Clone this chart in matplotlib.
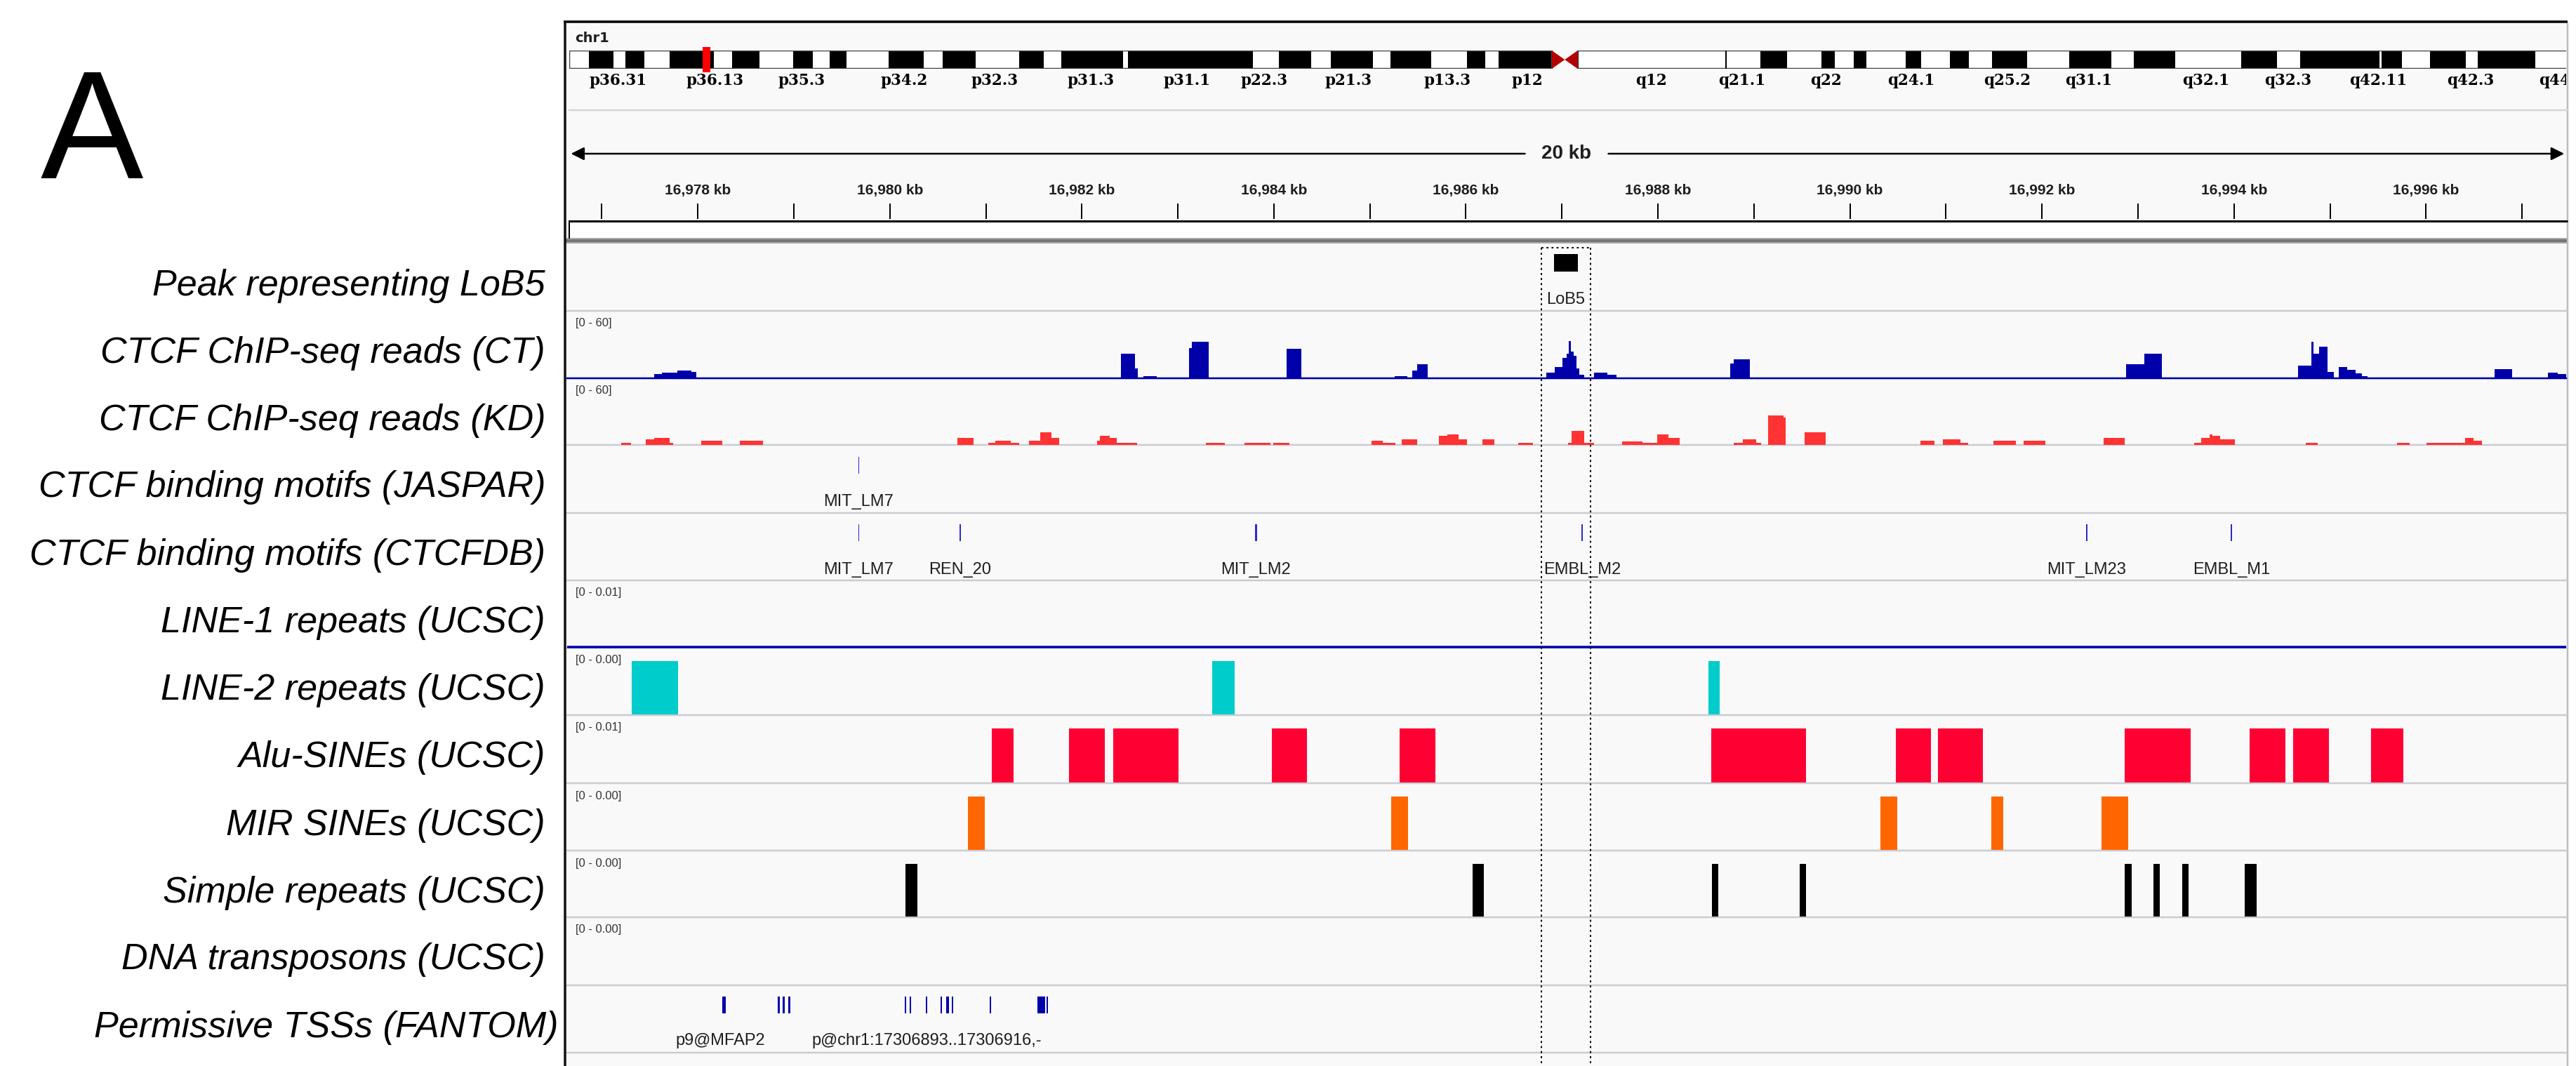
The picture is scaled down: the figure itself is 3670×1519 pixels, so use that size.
import matplotlib
matplotlib.use("Agg")
import matplotlib.pyplot as plt
from matplotlib.patches import Rectangle, Polygon

plt.rcParams['font.family'] = ['Liberation Sans', 'DejaVu Sans']

# ---------------- genomic view (chr1, positions in kb) ----------------
chrom = "chr1"
view_start_kb = 16976.639
view_end_kb = 16997.460
ruler_tick_kb = list(range(16977, 16998))
ruler_label_kb = list(range(16978, 16997, 2))

# ---------------- chromosome 1 ideogram (Mb) ----------------
chr1_length_mb = 249.25
p_arm_edges_mb = [0.0, 2.4, 5.5, 6.9, 9.3, 12.4, 17.9, 20.1, 23.5, 27.7, 30.1, 32.2, 34.3,
                  39.5, 43.8, 46.1, 50.2, 55.6, 58.6, 60.8, 68.4, 69.0, 84.5, 87.7, 91.7,
                  94.1, 99.3, 101.5, 106.5, 110.9, 113.2, 114.8, 121.4]
p_arm_stain = ["gneg", "gpos"] * 16
centromere_mb = (121.4, 124.6)
q_arm_edges_mb = [124.6, 142.9, 147.2, 150.5, 154.7, 156.4, 158.7, 160.3, 165.1, 167.0,
                  170.6, 172.9, 175.8, 180.1, 185.3, 190.5, 193.3, 198.4, 206.6, 211.0,
                  213.9, 223.7, 223.9, 226.4, 229.9, 234.3, 235.8, 242.9, 249.25]
q_arm_stain = ["gneg"] + ["gneg", "gpos"] * 13 + ["gneg"]
band_names = ["p36.31", "p36.13", "p35.3", "p34.2", "p32.3", "p31.3", "p31.1", "p22.3",
              "p21.3", "p13.3", "p12", "q12", "q21.1", "q22", "q24.1", "q25.2", "q31.1",
              "q32.1", "q32.3", "q42.11", "q42.3", "q44"]
band_label_mb = [6.0, 18.0, 28.7, 41.4, 52.6, 64.4, 76.3, 85.9, 96.3, 108.5, 118.4, 133.7,
                 144.9, 155.3, 165.8, 177.7, 187.7, 202.2, 212.4, 223.5, 234.9, 245.3]

# ---------------- tracks ----------------
track_names = ["Peak representing LoB5", "CTCF ChIP-seq reads (CT)", "CTCF ChIP-seq reads (KD)",
               "CTCF binding motifs (JASPAR)", "CTCF binding motifs (CTCFDB)",
               "LINE-1 repeats (UCSC)", "LINE-2 repeats (UCSC)", "Alu-SINEs (UCSC)",
               "MIR SINEs (UCSC)", "Simple repeats (UCSC)", "DNA transposons (UCSC)",
               "Permissive TSSs (FANTOM)"]
track_range = [None, "[0 - 60]", "[0 - 60]", None, None, "[0 - 0.01]", "[0 - 0.00]",
               "[0 - 0.01]", "[0 - 0.00]", "[0 - 0.00]", "[0 - 0.00]", None]

peak_name = "LoB5"
peak_start_kb, peak_end_kb = 16986.915, 16987.164
roi_start_kb, roi_end_kb = 16986.789, 16987.298

coverage_max = 60
ct_start_kb = [16977.545, 16977.626, 16977.787, 16977.933, 16982.407, 16982.554, 16982.641,
               16983.116, 16983.146, 16984.133, 16985.258, 16985.441, 16985.492,
               16986.838, 16986.925, 16987.006, 16987.050, 16987.072, 16987.094, 16987.123,
               16987.152, 16987.182, 16987.336, 16987.475, 16988.753, 16988.789,
               16992.877, 16993.067, 16994.668, 16994.805, 16994.825, 16994.886, 16994.974,
               16995.092, 16995.176, 16995.264, 16995.332, 16996.715, 16997.271, 16997.373]
ct_end_kb = [16977.626, 16977.787, 16977.933, 16977.984, 16982.554, 16982.583, 16982.780,
             16983.146, 16983.321, 16984.286, 16985.390, 16985.492, 16985.601,
             16986.925, 16987.006, 16987.050, 16987.072, 16987.094, 16987.123, 16987.152,
             16987.182, 16987.233, 16987.475, 16987.570, 16988.789, 16988.957,
             16993.067, 16993.250, 16994.805, 16994.825, 16994.886, 16994.974, 16995.041,
             16995.176, 16995.264, 16995.332, 16995.392, 16996.898, 16997.373, 16997.461]
ct_reads = [3.5, 5.2, 6.7, 5.6, 22.0, 9.0, 2.0,
            27.0, 32.5, 26.5, 2.0, 7.0, 12.7,
            5.0, 10.0, 18.0, 22.0, 33.0, 24.0, 20.0,
            9.0, 3.0, 5.0, 3.0, 13.0, 17.0,
            12.5, 22.0, 11.5, 32.7, 22.0, 28.0, 5.6,
            9.8, 7.7, 4.6, 2.0, 8.3, 5.2, 3.5]

kd_start_kb = [16977.201, 16977.457, 16977.545, 16977.709, 16978.035, 16978.437, 16980.704,
               16981.022, 16981.096, 16981.259, 16981.448, 16981.569, 16981.684, 16982.158,
               16982.191, 16982.293, 16982.360, 16983.293, 16983.696, 16983.997, 16985.017,
               16985.132, 16985.328, 16985.720, 16985.808, 16985.923, 16986.173, 16986.545,
               16987.064, 16987.100, 16987.232, 16987.624, 16987.841, 16987.989, 16988.111,
               16988.787, 16988.888, 16989.024, 16989.146, 16989.308, 16989.531, 16990.734,
               16990.970, 16991.153, 16991.491, 16991.809, 16992.640, 16993.587, 16993.655,
               16993.743, 16993.776, 16993.858, 16994.750, 16995.697, 16996.007, 16996.406,
               16996.494]
kd_end_kb = [16977.303, 16977.545, 16977.709, 16977.745, 16978.254, 16978.679, 16980.872,
             16981.096, 16981.259, 16981.346, 16981.569, 16981.684, 16981.765, 16982.191,
             16982.293, 16982.360, 16982.577, 16983.489, 16983.963, 16984.165, 16985.132,
             16985.267, 16985.490, 16985.808, 16985.923, 16986.011, 16986.295, 16986.700,
             16987.100, 16987.232, 16987.334, 16987.841, 16987.989, 16988.111, 16988.226,
             16988.888, 16989.024, 16989.071, 16989.308, 16989.328, 16989.748, 16990.883,
             16991.153, 16991.234, 16991.728, 16992.032, 16992.863, 16993.655, 16993.743,
             16993.776, 16993.858, 16994.006, 16994.872, 16995.832, 16996.406, 16996.494,
             16996.582]
kd_reads = [2.1, 5.3, 6.5, 2.0, 3.6, 3.6, 6.5,
            1.7, 3.6, 2.0, 3.6, 11.2, 6.5, 3.6,
            8.0, 6.5, 2.0, 2.0, 2.0, 2.0, 3.6,
            2.0, 5.3, 8.0, 9.5, 5.3, 5.3, 2.0,
            2.0, 12.6, 2.0, 3.4, 2.0, 9.5, 6.5,
            2.0, 5.3, 2.0, 26.3, 24.7, 11.2, 3.6,
            5.3, 2.0, 3.6, 3.6, 6.5, 2.0, 6.5,
            9.5, 8.0, 5.3, 2.0, 2.0, 2.0, 6.5,
            3.6]

jaspar_pos_kb = [16979.676]
jaspar_names = ["MIT_LM7"]
jaspar_len_bp = [12]
ctcfdb_pos_kb = [16979.676, 16980.731, 16983.814, 16987.212, 16992.465, 16993.972]
ctcfdb_names = ["MIT_LM7", "REN_20", "MIT_LM2", "EMBL_M2", "MIT_LM23", "EMBL_M1"]
ctcfdb_len_bp = [12, 12, 22, 12, 12, 12]

line2_start_kb = [16977.311, 16983.361, 16988.523]
line2_end_kb = [16977.797, 16983.591, 16988.646]
alu_start_kb = [16981.063, 16981.867, 16982.327, 16983.976, 16985.308, 16988.557,
                16990.477, 16990.917, 16992.864, 16994.162, 16994.614, 16995.426]
alu_end_kb = [16981.286, 16982.239, 16983.010, 16984.348, 16985.680, 16989.544,
              16990.842, 16991.384, 16993.547, 16994.533, 16994.987, 16995.764]
mir_start_kb = [16980.813, 16985.220, 16990.315, 16991.471, 16992.621]
mir_end_kb = [16980.988, 16985.396, 16990.491, 16991.599, 16992.898]
simple_start_kb = [16980.163, 16986.072, 16988.564, 16989.477, 16992.864, 16993.162,
                   16993.459, 16994.114]
simple_end_kb = [16980.285, 16986.187, 16988.632, 16989.544, 16992.931, 16993.229,
                 16993.527, 16994.236]

tss_start_kb = [16978.253, 16978.832, 16978.886, 16978.941, 16980.156, 16980.207,
                16980.374, 16980.525, 16980.588, 16980.643, 16981.043, 16981.536, 16981.630]
tss_end_kb = [16978.293, 16978.852, 16978.906, 16978.966, 16980.171, 16980.222,
              16980.386, 16980.540, 16980.618, 16980.658, 16981.055, 16981.617, 16981.650]
tss_labels = ["p9@MFAP2", "p@chr1:17306893..17306916,-"]
tss_label_kb = [16978.237, 16980.386]

# ---------------- colours ----------------
PANEL_BG = "#f9f9f9"
SEP = "#cbcbd3"
CT_BLUE = "#0000aa"
KD_RED = "#ff3333"
MOTIF_BLUE = "#2a2ad0"
LINE2_CYAN = "#00cccc"
ALU_RED = "#ff0033"
MIR_ORANGE = "#ff6600"
TEXT_DARK = "#1e1e1e"

# ---------------- figure scaffolding (pixel layout) ----------------
W, H = 3670, 1519
fig = plt.figure(figsize=(W / 100, H / 100), dpi=100)
fig.patch.set_facecolor("white")


def px(v):
    """line width in points for a width given in pixels"""
    return v * 0.72


def px_axes(x0, y0, x1, y1):
    ax = fig.add_axes([x0 / W, 1 - y1 / H, (x1 - x0) / W, (y1 - y0) / H])
    ax.set_axis_off()
    return ax


PANEL_L, PANEL_R = 805, 3658
DATA_L, DATA_R = 808, 3656
track_top_px = [347, 443, 539, 634, 731, 827, 923, 1019, 1116, 1212, 1307, 1404]
track_bottom_px = track_top_px[1:] + [1500]

bg = px_axes(0, 0, W, H)
bg.set_xlim(0, W)
bg.set_ylim(H, 0)
bg.add_patch(Rectangle((PANEL_L, 31), PANEL_R - PANEL_L, H - 31, facecolor=PANEL_BG,
                       edgecolor="none"))
bg.plot([PANEL_L - 2, PANEL_R], [31, 31], color="black", lw=px(3.5), solid_capstyle="butt")
bg.plot([PANEL_L, PANEL_L], [31, H], color="#111111", lw=px(3.5), solid_capstyle="butt")
bg.plot([PANEL_R, PANEL_R], [33, H], color="#bcbcbc", lw=px(2.5), solid_capstyle="butt")

# panel letter
bg.text(58, 254, "A", fontsize=158, ha="left", va="baseline", color="black")

# ideogram / ruler separators
bg.plot([811, PANEL_R], [157, 157], color="#d4d4dc", lw=px(2.5))
bg.text(819, 55, chrom, fontsize=14, fontweight="bold", family="DejaVu Sans",
        ha="left", va="center", color=TEXT_DARK)

# ruler frame
bg.plot([811, PANEL_R], [315, 315], color="black", lw=px(3), solid_capstyle="butt")
bg.add_patch(Rectangle((811, 316), PANEL_R - 811, 23, facecolor="white", edgecolor="none"))
bg.plot([811, 811], [315, 339], color="black", lw=px(2))
bg.add_patch(Rectangle((PANEL_L, 339), PANEL_R - PANEL_L, 8, facecolor="#a9a9a9",
                       edgecolor="none"))
bg.add_patch(Rectangle((PANEL_L, 341), PANEL_R - PANEL_L, 4, facecolor="#767676",
                       edgecolor="none"))

# track separators
for yb in track_bottom_px:
    bg.plot([PANEL_L + 2, PANEL_R], [yb, yb], color=SEP, lw=px(2.5), solid_capstyle="butt")

# track names
for name, top in zip(track_names, track_top_px):
    xr = 795 if name.startswith("Permissive") else 777
    bg.text(xr, top + 74, name, fontsize=37.5, style="italic", ha="right",
            va="baseline", color="black")

# data-range labels
for rng, top in zip(track_range, track_top_px):
    if rng:
        bg.text(820, top + 18, rng, fontsize=12, ha="left", va="center", color="#333333")

# ---------------- chromosome ideogram ----------------
IDEO_X0, IDEO_X1 = 811, 3685        # pixel span of the whole chromosome
mb_right = chr1_length_mb * (DATA_R - IDEO_X0) / (IDEO_X1 - IDEO_X0)
ideo = px_axes(IDEO_X0, 72, DATA_R, 98)
ideo.set_xlim(0, mb_right)
ideo.set_ylim(0, 1)


def draw_arm(edges, stains, ax):
    for i, stain in enumerate(stains):
        s, e = edges[i], edges[i + 1]
        ax.add_patch(Rectangle((s, 0), e - s, 1, facecolor="black" if stain == "gpos" else "white",
                               edgecolor="none"))
        if i > 0 and stains[i - 1] == stain:
            ax.plot([s, s], [0, 1], color="black", lw=px(2))
    ax.add_patch(Rectangle((edges[0], 0), edges[-1] - edges[0], 1, facecolor="none",
                           edgecolor="#444444", lw=px(2.5)))


draw_arm(p_arm_edges_mb, p_arm_stain, ideo)
draw_arm(q_arm_edges_mb, q_arm_stain, ideo)
c0, c1 = centromere_mb
cm = (c0 + c1) / 2
ideo.add_patch(Polygon([(c0, 0), (c0, 1), (cm, 0.5)], closed=True, facecolor="#b40000",
                       edgecolor="none"))
ideo.add_patch(Polygon([(c1, 0), (c1, 1), (cm, 0.5)], closed=True, facecolor="#b40000",
                       edgecolor="none"))
view_mid_mb = (view_start_kb + view_end_kb) / 2 / 1000
ideo.add_patch(Rectangle((view_mid_mb - 0.48, -0.2), 0.96, 1.4, facecolor="red",
                         edgecolor="none", clip_on=False, zorder=5))

band_ax = px_axes(IDEO_X0, 100, DATA_R, 132)
band_ax.set_xlim(0, mb_right)
band_ax.set_ylim(132, 100)
for name, pos in zip(band_names, band_label_mb):
    band_ax.text(pos, 115, name, fontsize=15.5, family="DejaVu Serif", fontweight="bold",
                 ha="center", va="center", color="black", clip_on=True)

# ---------------- ruler ----------------
ruler = px_axes(DATA_L, 180, DATA_R, 340)
ruler.set_xlim(view_start_kb, view_end_kb)
ruler.set_ylim(340, 180)
view_mid_kb = (view_start_kb + view_end_kb) / 2
span_kb = view_end_kb - view_start_kb
gap = 0.435
arrow_kw = dict(arrowstyle="-|>", color="black", lw=px(2.5), mutation_scale=28,
                shrinkA=0, shrinkB=0)
ruler.annotate("", xy=(view_start_kb + 0.04, 219), xytext=(view_mid_kb - gap, 219),
               arrowprops=arrow_kw)
ruler.annotate("", xy=(view_end_kb - 0.02, 219), xytext=(view_mid_kb + gap, 219),
               arrowprops=arrow_kw)
ruler.text(view_mid_kb, 219, f"{int(span_kb)} kb", fontsize=20, fontweight="bold",
           ha="center", va="center", color=TEXT_DARK)
ruler.vlines(ruler_tick_kb, 290, 312, color="black", lw=px(2))
for kb in ruler_label_kb:
    ruler.text(kb, 272, f"{kb:,} kb", fontsize=15, fontweight="bold", ha="center",
               va="center", color=TEXT_DARK)

# ---------------- feature tracks (y in pixel rows) ----------------
g = px_axes(DATA_L, 347, DATA_R, H)
g.set_xlim(view_start_kb, view_end_kb)
g.set_ylim(H, 347)

# peak
g.add_patch(Rectangle((peak_start_kb, 362), peak_end_kb - peak_start_kb, 25,
                      facecolor="black", edgecolor="none"))
g.text((peak_start_kb + peak_end_kb) / 2, 427, peak_name, fontsize=17, ha="center",
       va="center", color=TEXT_DARK)


def motif_track(pos_kb, names, len_bp, y0, y1, ylab):
    for p, n, L in zip(pos_kb, names, len_bp):
        w = L / 1000
        g.add_patch(Rectangle((p - w / 2, y0), w, y1 - y0, facecolor=MOTIF_BLUE,
                              edgecolor="none"))
        g.text(p, ylab, n, fontsize=17, ha="center", va="center", color=TEXT_DARK)


motif_track(jaspar_pos_kb, jaspar_names, jaspar_len_bp, 651, 675, 715)
motif_track(ctcfdb_pos_kb, ctcfdb_names, ctcfdb_len_bp, 747, 771, 812)

# LINE-1 baseline
g.plot([view_start_kb, view_end_kb], [922, 922], color=CT_BLUE, lw=px(3.5),
       solid_capstyle="butt")


def repeat_track(starts, ends, color, top, bottom):
    y_bar = bottom - 0.8 * (bottom - top)
    for s, e in zip(starts, ends):
        g.add_patch(Rectangle((s, y_bar), e - s, bottom - y_bar - 1, facecolor=color,
                              edgecolor="none"))


repeat_track(line2_start_kb, line2_end_kb, LINE2_CYAN, 923, 1019)
repeat_track(alu_start_kb, alu_end_kb, ALU_RED, 1019, 1116)
repeat_track(mir_start_kb, mir_end_kb, MIR_ORANGE, 1116, 1212)
repeat_track(simple_start_kb, simple_end_kb, "black", 1212, 1307)

# TSSs
for s, e in zip(tss_start_kb, tss_end_kb):
    g.add_patch(Rectangle((s, 1420), e - s, 24, facecolor=CT_BLUE, edgecolor="none"))
for lab, pos in zip(tss_labels, tss_label_kb):
    g.text(pos, 1483, lab, fontsize=17, ha="center", va="center", color=TEXT_DARK)

# ---------------- coverage tracks ----------------
ct_ax = px_axes(DATA_L, 443, DATA_R, 539)
ct_ax.set_xlim(view_start_kb, view_end_kb)
ct_ax.set_ylim(0, coverage_max)
ct_ax.bar(ct_start_kb, ct_reads, width=[e - s for s, e in zip(ct_start_kb, ct_end_kb)],
          align="edge", color=CT_BLUE, linewidth=0)
ct_ax.axhline(0, color=CT_BLUE, lw=px(2.5), clip_on=False)

kd_ax = px_axes(DATA_L, 539, DATA_R, 634)
kd_ax.set_xlim(view_start_kb, view_end_kb)
kd_ax.set_ylim(0, coverage_max)
kd_ax.bar(kd_start_kb, kd_reads, width=[e - s for s, e in zip(kd_start_kb, kd_end_kb)],
          align="edge", color=KD_RED, linewidth=0)

# ---------------- region of interest ----------------
roi = px_axes(DATA_L, 340, DATA_R, H)
roi.set_xlim(view_start_kb, view_end_kb)
roi.set_ylim(H, 340)
dot = dict(color="black", lw=px(2), linestyle=(0, (1.4, 2.2)))
roi.plot([roi_start_kb, roi_start_kb], [353, H], **dot)
roi.plot([roi_end_kb, roi_end_kb], [353, H], **dot)
roi.plot([roi_start_kb, roi_end_kb], [353, 353], **dot)

fig.savefig("out.png", dpi=100, facecolor="white")
